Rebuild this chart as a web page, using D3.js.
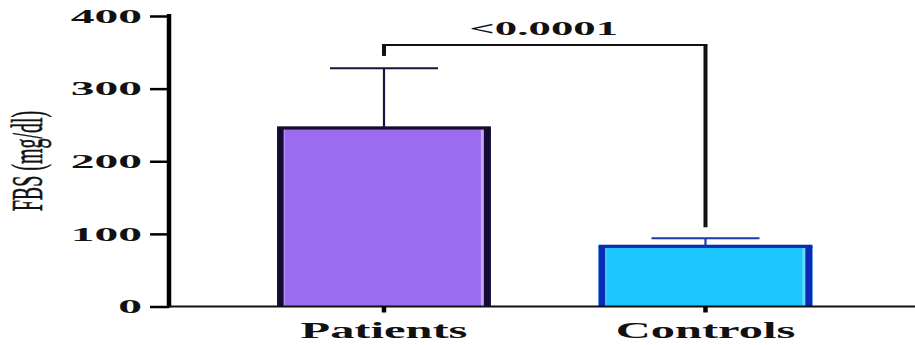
<!DOCTYPE html>
<html>
<head>
<meta charset="utf-8">
<script src="https://cdn.jsdelivr.net/npm/d3@7"></script>
<style>
  html, body { margin: 0; padding: 0; background: #fff; }
  svg { display: block; }
  text { font-family: "Liberation Serif", "Times New Roman", serif; }
</style>
</head>
<body>
<svg id="chart" width="915" height="345"></svg>
<script>
// Group means and SD (FBS, mg/dl)
const categories = ["Patients", "Controls"];
const means = [246, 83];
const sds = [82, 11];
const yTicks = [0, 100, 200, 300, 400];
const pLabel = "<0.0001";
// comparison bracket: top level, and where each leg stops
const bracketTop = 360;
const bracketLegEnds = [345, 109];

const fills = ["#9b6cf0", "#1ec6ff"];
const edges = ["#130b30", "#0a2bb5"];
const shines = ["#c6a4ff", "#6ad9ff"];
const whiskers = ["#1a1238", "#1e3aa8"];

const svg = d3.select("#chart");
const W = 915, H = 345;
const axisX = 169, axisY = 306.5;

const y = d3.scaleLinear().domain([0, 400]).range([axisY, 16]);
const x = d3.scaleBand().domain(categories).range([axisX, W])
  .paddingInner(0.335).paddingOuter(0.3277).align(0.513);

// Bars
const bars = svg.append("g");
categories.forEach((c, i) => {
  const x0 = x(c), bw = x.bandwidth();
  const top = y(means[i]);
  const g = bars.append("g");
  g.append("rect").attr("x", x0).attr("y", top).attr("width", bw)
    .attr("height", axisY - top).attr("fill", fills[i]);
  // inner highlight near the edges
  g.append("rect").attr("x", x0 + bw - 10).attr("y", top).attr("width", 3)
    .attr("height", axisY - top).attr("fill", shines[i]);
  g.append("rect").attr("x", x0 + 6).attr("y", top).attr("width", 2)
    .attr("height", axisY - top).attr("fill", shines[i]).attr("opacity", 0.6);
  // border: heavy sides, lighter top
  g.append("rect").attr("x", x0).attr("y", top).attr("width", 6.5)
    .attr("height", axisY - top).attr("fill", edges[i]);
  g.append("rect").attr("x", x0 + bw - 7).attr("y", top).attr("width", 7)
    .attr("height", axisY - top).attr("fill", edges[i]);
  g.append("rect").attr("x", x0).attr("y", top - 1.5).attr("width", bw)
    .attr("height", 3.2).attr("fill", edges[i]);

  // error bar (upper)
  const cx = x0 + bw / 2;
  const capY = y(means[i] + sds[i]);
  g.append("line").attr("x1", cx).attr("x2", cx).attr("y1", top).attr("y2", capY)
    .attr("stroke", whiskers[i]).attr("stroke-width", 2.2);
  g.append("line").attr("x1", cx - 54).attr("x2", cx + 54).attr("y1", capY).attr("y2", capY)
    .attr("stroke", whiskers[i]).attr("stroke-width", 2);
});

// Y axis
const yAxis = d3.axisLeft(y).tickValues(yTicks).tickSize(19).tickSizeOuter(0).tickFormat("");
const yg = svg.append("g").attr("transform", `translate(${axisX},0)`).call(yAxis);
yg.select(".domain").attr("stroke", "#000").attr("stroke-width", 4.5)
  .attr("d", `M0,${y(400) - 2}V${axisY + 1}`);
yg.selectAll(".tick line").attr("stroke", "#000").attr("stroke-width", 2.5);

svg.append("g").selectAll("text").data(yTicks).join("text")
  .attr("transform", d => `translate(142,${y(d)}) scale(2.5,1)`)
  .attr("text-anchor", "end").attr("dy", "0.36em")
  .attr("font-size", 19).attr("font-weight", "bold").attr("fill", "#111")
  .text(d => d);

// X axis
const xAxis = d3.axisBottom(x).tickSize(6).tickSizeOuter(0).tickFormat("");
const xg = svg.append("g").attr("transform", `translate(0,${axisY})`).call(xAxis);
xg.select(".domain").attr("stroke", "#111").attr("stroke-width", 2)
  .attr("d", `M${axisX},0H${W}`);
xg.selectAll(".tick line").attr("stroke", "#000").attr("stroke-width", 4.5);

svg.append("g").selectAll("text").data(categories).join("text")
  .attr("transform", d => `translate(${x(d) + x.bandwidth() / 2},338) scale(2.02,1)`)
  .attr("text-anchor", "middle")
  .attr("font-size", 24).attr("font-weight", "bold").attr("fill", "#111")
  .text(d => d);

// Y title
svg.append("text")
  .attr("transform", `translate(42,161) scale(2.2,1) rotate(-90)`)
  .attr("text-anchor", "middle")
  .attr("font-size", 20).attr("fill", "#111")
  .attr("stroke", "#111").attr("stroke-width", 0.25)
  .text("FBS (mg/dl)");

// Significance bracket
const cA = x(categories[0]) + x.bandwidth() / 2;
const cB = x(categories[1]) + x.bandwidth() / 2;
const bY = y(bracketTop);
svg.append("line").attr("x1", cA - 2).attr("x2", cB + 2).attr("y1", bY).attr("y2", bY)
  .attr("stroke", "#111").attr("stroke-width", 2);
svg.append("line").attr("x1", cA).attr("x2", cA).attr("y1", bY).attr("y2", y(bracketLegEnds[0]))
  .attr("stroke", "#111").attr("stroke-width", 4);
svg.append("line").attr("x1", cB).attr("x2", cB).attr("y1", bY).attr("y2", y(bracketLegEnds[1]))
  .attr("stroke", "#111").attr("stroke-width", 4);
svg.append("text")
  .attr("transform", `translate(${(cA + cB) / 2 - 1},35) scale(2.36,1)`)
  .attr("text-anchor", "middle")
  .attr("font-size", 19).attr("font-weight", "bold").attr("fill", "#111")
  .text(pLabel);
</script>
</body>
</html>
